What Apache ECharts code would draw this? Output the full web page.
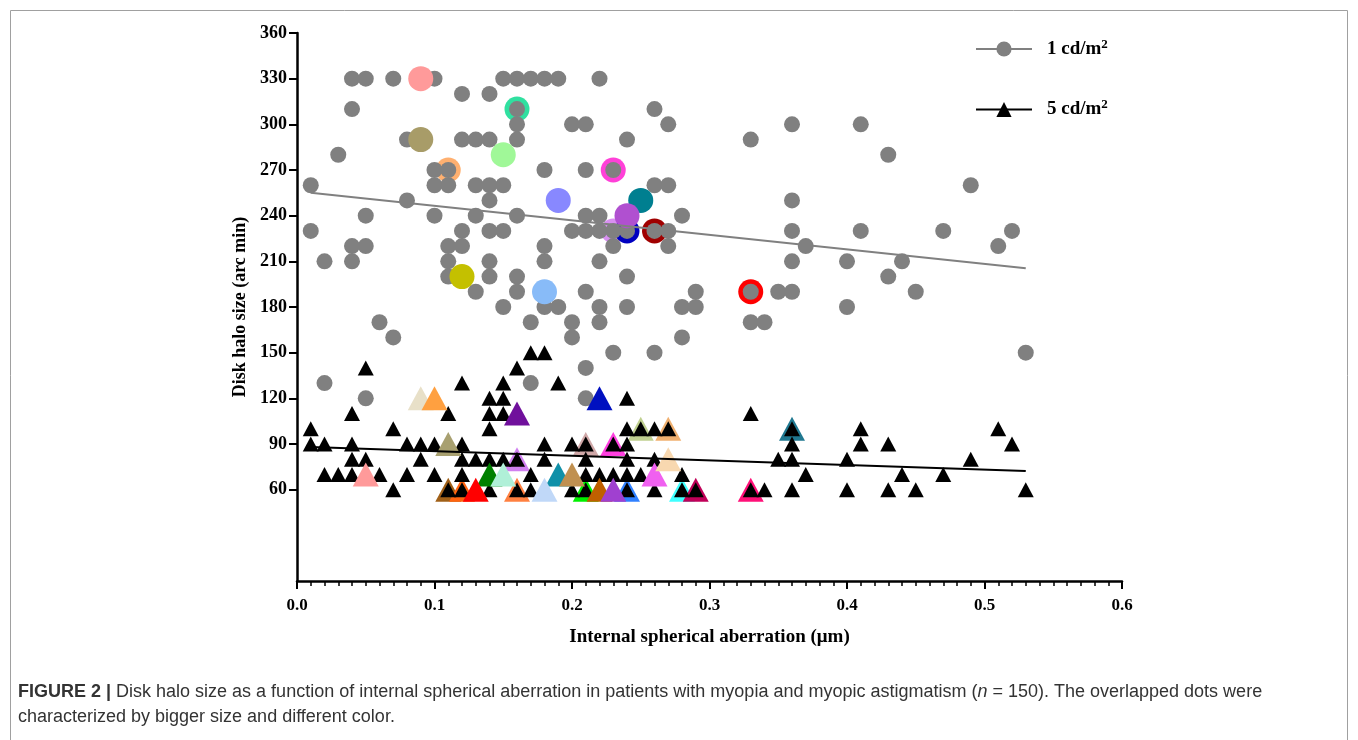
<!DOCTYPE html>
<html>
<head>
<meta charset="utf-8">
<script src="https://cdn.jsdelivr.net/npm/echarts@6/dist/echarts.min.js"></script>
<style>
  html, body { margin: 0; padding: 0; background: #fff; }
  #main { width: 1358px; height: 740px; }
</style>
</head>
<body>
<div id="main"></div>
<script>
var chartDom = document.getElementById('main');
var myChart = echarts.init(chartDom);
var option;

// 1 cd/m2 : halo size per internal spherical aberration
var low = [
  [0.04, 330], [0.05, 330], [0.07, 330], [0.09, 330], [0.10, 330], [0.15, 330], [0.16, 330], [0.17, 330], [0.18, 330], [0.19, 330], [0.22, 330],
  [0.12, 320], [0.14, 320],
  [0.04, 310], [0.16, 310], [0.26, 310],
  [0.16, 300], [0.20, 300], [0.21, 300], [0.27, 300], [0.36, 300], [0.41, 300],
  [0.08, 290], [0.09, 290], [0.12, 290], [0.13, 290], [0.14, 290], [0.16, 290], [0.24, 290], [0.33, 290],
  [0.03, 280], [0.15, 280], [0.43, 280],
  [0.10, 270], [0.11, 270], [0.18, 270], [0.21, 270], [0.23, 270],
  [0.01, 260], [0.10, 260], [0.11, 260], [0.13, 260], [0.14, 260], [0.15, 260], [0.26, 260], [0.27, 260], [0.49, 260],
  [0.08, 250], [0.14, 250], [0.19, 250], [0.25, 250], [0.36, 250],
  [0.05, 240], [0.10, 240], [0.13, 240], [0.16, 240], [0.21, 240], [0.22, 240], [0.24, 240], [0.28, 240],
  [0.01, 230], [0.12, 230], [0.14, 230], [0.15, 230], [0.20, 230], [0.21, 230], [0.22, 230], [0.23, 230], [0.24, 230], [0.26, 230], [0.27, 230], [0.36, 230], [0.41, 230], [0.47, 230], [0.52, 230],
  [0.04, 220], [0.05, 220], [0.11, 220], [0.12, 220], [0.18, 220], [0.23, 220], [0.27, 220], [0.37, 220], [0.51, 220],
  [0.02, 210], [0.04, 210], [0.11, 210], [0.14, 210], [0.18, 210], [0.22, 210], [0.36, 210], [0.40, 210], [0.44, 210],
  [0.11, 200], [0.12, 200], [0.14, 200], [0.16, 200], [0.24, 200], [0.43, 200],
  [0.13, 190], [0.16, 190], [0.18, 190], [0.21, 190], [0.29, 190], [0.33, 190], [0.35, 190], [0.36, 190], [0.45, 190],
  [0.15, 180], [0.18, 180], [0.19, 180], [0.22, 180], [0.24, 180], [0.28, 180], [0.29, 180], [0.40, 180],
  [0.06, 170], [0.17, 170], [0.20, 170], [0.22, 170], [0.33, 170], [0.34, 170],
  [0.07, 160], [0.20, 160], [0.28, 160],
  [0.23, 150], [0.26, 150], [0.53, 150],
  [0.21, 140],
  [0.02, 130], [0.17, 130],
  [0.05, 120], [0.21, 120]
];

// 5 cd/m2
var high = [
  [0.17, 150], [0.18, 150],
  [0.05, 140], [0.16, 140],
  [0.12, 130], [0.15, 130], [0.19, 130],
  [0.14, 120], [0.15, 120], [0.24, 120],
  [0.04, 110], [0.11, 110], [0.14, 110], [0.15, 110], [0.33, 110],
  [0.01, 100], [0.07, 100], [0.14, 100], [0.24, 100], [0.25, 100], [0.26, 100], [0.27, 100], [0.36, 100], [0.41, 100], [0.51, 100],
  [0.01, 90], [0.02, 90], [0.04, 90], [0.08, 90], [0.09, 90], [0.10, 90], [0.12, 90], [0.18, 90], [0.20, 90], [0.21, 90], [0.23, 90], [0.24, 90], [0.36, 90], [0.41, 90], [0.43, 90], [0.52, 90],
  [0.04, 80], [0.05, 80], [0.09, 80], [0.12, 80], [0.13, 80], [0.14, 80], [0.15, 80], [0.16, 80], [0.18, 80], [0.21, 80], [0.24, 80], [0.26, 80], [0.35, 80], [0.36, 80], [0.40, 80], [0.49, 80],
  [0.02, 70], [0.03, 70], [0.04, 70], [0.06, 70], [0.08, 70], [0.10, 70], [0.12, 70], [0.17, 70], [0.21, 70], [0.22, 70], [0.23, 70], [0.24, 70], [0.25, 70], [0.28, 70], [0.37, 70], [0.44, 70], [0.47, 70],
  [0.07, 60], [0.11, 60], [0.12, 60], [0.14, 60], [0.16, 60], [0.17, 60], [0.20, 60], [0.21, 60], [0.24, 60], [0.26, 60], [0.28, 60], [0.29, 60], [0.33, 60], [0.34, 60], [0.36, 60], [0.40, 60], [0.43, 60], [0.45, 60], [0.53, 60]
];

// overlapped points, drawn bigger (ring = drawn under the normal mark)
var lowRing = [[0.11, 270], [0.16, 310], [0.23, 270], [0.23, 230], [0.24, 230], [0.26, 230], [0.33, 190]];
var lowRingColors = ['#ffb070', '#30e0a0', '#ff40d8', '#d890f0', '#0000c0', '#a00000', '#ff0000'];
var lowFill = [[0.09, 330], [0.09, 290], [0.15, 280], [0.19, 250], [0.12, 200], [0.18, 190], [0.25, 250], [0.24, 240]];
var lowFillColors = ['#ff9a9a', '#a89c68', '#a0f898', '#8888ff', '#c4c000', '#88bbf8', '#007f90', '#b050d0'];

var highRing = [[0.11, 60], [0.12, 60], [0.16, 60], [0.16, 80], [0.21, 90], [0.23, 90], [0.25, 100], [0.27, 100], [0.36, 100], [0.21, 60], [0.24, 60], [0.28, 60], [0.29, 60], [0.33, 60]];
var highRingColors = ['#a06018', '#ff6410', '#ff8040', '#d080f0', '#d0a8a8', '#ff40e0', '#c0d090', '#f0b070', '#207890', '#00f000', '#3080ff', '#40ffff', '#c00058', '#ff1078'];
var highFill = [[0.09, 120], [0.10, 120], [0.16, 110], [0.22, 120], [0.11, 90], [0.05, 70], [0.14, 70], [0.15, 70], [0.19, 70], [0.20, 70], [0.26, 70], [0.27, 80], [0.13, 60], [0.18, 60], [0.22, 60], [0.23, 60]];
var highFillColors = ['#e8e0c8', '#ffa040', '#70109c', '#0010c0', '#a8a070', '#ff9a9a', '#008000', '#b0f0d8', '#1090a8', '#c09050', '#f060f0', '#f8d8b0', '#ff0000', '#c0d8f8', '#c06000', '#a040d0'];

// linear fits
var lowFit = [[0.01, 255], [0.53, 205.5]];
var highFit = [[0.01, 88], [0.53, 72.3]];

var yTicks = [60, 90, 120, 150, 180, 210, 240, 270, 300, 330, 360];

function colored(points, colors) {
  return points.map(function (p, i) {
    return { value: p, itemStyle: { color: colors[i] } };
  });
}

var serif = 'Liberation Serif';
var solid = { opacity: 1 };

option = {
  animation: false,
  grid: { left: 297, right: 236, top: 33, bottom: 159 },
  xAxis: {
    type: 'value',
    min: 0,
    max: 0.6,
    interval: 0.1,
    name: 'Internal spherical aberration (\u03bcm)',
    nameLocation: 'middle',
    nameGap: 47,
    nameTextStyle: { fontFamily: serif, fontWeight: 'bold', fontSize: 19, color: '#000' },
    axisLine: { lineStyle: { color: '#000', width: 2.5 } },
    axisTick: { length: 8, lineStyle: { color: '#000', width: 2 } },
    minorTick: { show: true, splitNumber: 10, length: 5, lineStyle: { color: '#000', width: 1.5 } },
    axisLabel: {
      margin: 16,
      fontFamily: serif, fontWeight: 'bold', fontSize: 17, color: '#000',
      formatter: function (v) { return v.toFixed(1); }
    },
    splitLine: { show: false }
  },
  yAxis: {
    type: 'value',
    min: 0,
    max: 360,
    name: 'Disk halo size (arc min)',
    nameLocation: 'middle',
    nameGap: 48,
    nameTextStyle: { fontFamily: serif, fontWeight: 'bold', fontSize: 18, color: '#000' },
    axisLine: { lineStyle: { color: '#000', width: 2.5 } },
    axisTick: { length: 8, customValues: yTicks, lineStyle: { color: '#000', width: 2 } },
    axisLabel: {
      margin: 10, customValues: yTicks,
      fontFamily: serif, fontWeight: 'bold', fontSize: 18, color: '#000'
    },
    splitLine: { show: false }
  },
  legend: {
    data: ['1 cd/m2', '5 cd/m2'],
    orient: 'vertical',
    left: 970,
    top: 33,
    itemWidth: 56,
    itemHeight: 19,
    itemGap: 40,
    formatter: function (name) { return '{t|' + name.slice(0, -1) + '}{sup|2}'; },
    textStyle: {
      padding: [0, 0, 0, 10],
      rich: {
        t: { fontFamily: serif, fontWeight: 'bold', fontSize: 19, color: '#000', lineHeight: 22 },
        sup: { fontFamily: serif, fontWeight: 'bold', fontSize: 13, color: '#000', verticalAlign: 'top', lineHeight: 22, padding: [0, 0, 6, 0] }
      }
    }
  },
  graphic: [
    {
      type: 'rect', silent: true,
      shape: { x: 10.5, y: 10.5, width: 1337, height: 760 },
      style: { fill: 'none', stroke: '#a0a0a0', lineWidth: 1 }
    },
    {
      type: 'text', left: 18, top: 683, silent: true,
      style: {
        text: '{b|FIGURE 2 |} Disk halo size as a function of internal spherical aberration in patients with myopia and myopic astigmatism ({i|n} = 150). The overlapped dots were',
        font: '18px "Liberation Sans"',
        fill: '#333',
        rich: {
          b: { fontFamily: 'Liberation Sans', fontWeight: 'bold', fontSize: 18, fill: '#333' },
          i: { fontFamily: 'Liberation Sans', fontStyle: 'italic', fontSize: 18, fill: '#333' }
        }
      }
    },
    {
      type: 'text', left: 18, top: 708, silent: true,
      style: {
        text: 'characterized by bigger size and different color.',
        font: '18px "Liberation Sans"',
        fill: '#333'
      }
    }
  ],
  series: [
    {
      name: 'lowRing', type: 'scatter', symbol: 'circle', symbolSize: 25,
      itemStyle: solid,
      data: colored(lowRing, lowRingColors)
    },
    {
      name: '1 cd/m2 points', type: 'scatter', symbol: 'circle', symbolSize: 16,
      itemStyle: { color: '#808080', opacity: 1 },
      data: low
    },
    {
      name: 'lowFill', type: 'scatter', symbol: 'circle', symbolSize: 25,
      itemStyle: solid,
      data: colored(lowFill, lowFillColors)
    },
    {
      name: 'highRing', type: 'scatter', symbol: 'triangle', symbolSize: [26, 24],
      itemStyle: solid,
      data: colored(highRing, highRingColors)
    },
    {
      name: '5 cd/m2 points', type: 'scatter', symbol: 'triangle', symbolSize: [16, 15],
      itemStyle: { color: '#000', opacity: 1 },
      data: high
    },
    {
      name: 'highFill', type: 'scatter', symbol: 'triangle', symbolSize: [26, 24],
      itemStyle: solid,
      data: colored(highFill, highFillColors)
    },
    {
      name: '1 cd/m2', type: 'line', symbol: 'circle', showSymbol: false,
      lineStyle: { color: '#808080', width: 2 },
      itemStyle: { color: '#808080' },
      data: lowFit
    },
    {
      name: '5 cd/m2', type: 'line', symbol: 'triangle', showSymbol: false,
      lineStyle: { color: '#000', width: 2 },
      itemStyle: { color: '#000' },
      data: highFit
    }
  ]
};

option && myChart.setOption(option);
</script>
</body>
</html>
